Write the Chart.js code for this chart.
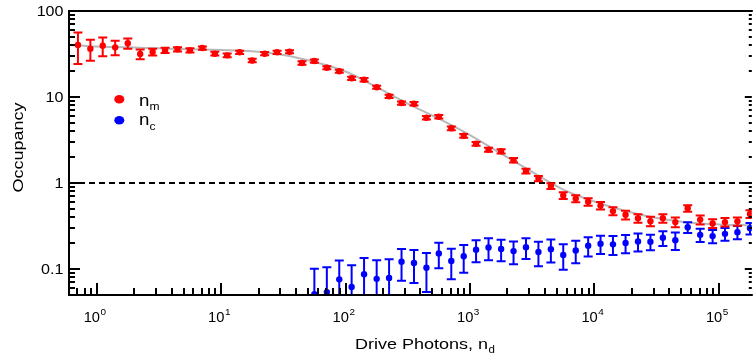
<!DOCTYPE html>
<html><head><meta charset="utf-8">
<script src="https://cdn.jsdelivr.net/npm/chart.js@4/dist/chart.umd.min.js"></script>
<style>html,body{margin:0;padding:0;background:#fff;overflow:hidden}canvas{display:block}</style>
</head><body>
<canvas id="c" width="755" height="361"></canvas>
<script>
// ---- data ----
const driveX = [0.708, 0.891, 1.12, 1.41, 1.78, 2.24, 2.82, 3.55, 4.47, 5.62, 7.08, 8.91, 11.2, 14.1, 17.8, 22.4, 28.2, 35.5, 44.7, 56.2, 70.8, 89.1, 112, 141, 178, 224, 282, 355, 447, 562, 708, 891, 1120, 1410, 1780, 2240, 2820, 3550, 4470, 5620, 7080, 8910, 11200, 14100, 17800, 22400, 28200, 35500, 44700, 56200, 70800, 89100, 112000, 141000, 178000];
const nmValues = [40.2, 36.4, 39.5, 37.8, 42.1, 31.6, 33.4, 34.9, 35.9, 34.9, 37.1, 31.9, 30.5, 33.1, 26.6, 31.9, 33.1, 33.6, 24.9, 26.2, 21.9, 19.9, 16.5, 15.9, 13.0, 10.2, 8.51, 8.36, 5.74, 5.90, 4.33, 3.55, 2.86, 2.44, 2.34, 1.84, 1.38, 1.13, 0.923, 0.716, 0.660, 0.606, 0.547, 0.472, 0.428, 0.390, 0.360, 0.390, 0.352, 0.509, 0.376, 0.340, 0.352, 0.359, 0.438];
const nmErrors = [16, 10, 9.7, 7.3, 5.8, 4.2, 3.0, 2.5, 2.0, 2.0, 1.6, 1.6, 1.5, 1.5, 1.3, 1.4, 1.4, 1.4, 1.1, 1.1, 0.9, 0.8, 0.7, 0.7, 0.55, 0.45, 0.38, 0.37, 0.27, 0.28, 0.21, 0.18, 0.15, 0.13, 0.13, 0.11, 0.09, 0.08, 0.07, 0.065, 0.06, 0.06, 0.055, 0.05, 0.05, 0.045, 0.045, 0.045, 0.045, 0.045, 0.045, 0.04, 0.04, 0.04, 0.045];
const ncX = [56.2, 70.8, 89.1, 112, 141, 178, 224, 282, 355, 447, 562, 708, 891, 1120, 1410, 1780, 2240, 2820, 3550, 4470, 5620, 7080, 8910, 11200, 14100, 17800, 22400, 28200, 35500, 44700, 56200, 70800, 89100, 112000, 141000, 178000];
const ncValues = [0.051, 0.054, 0.076, 0.062, 0.087, 0.077, 0.079, 0.122, 0.118, 0.104, 0.152, 0.124, 0.141, 0.168, 0.178, 0.171, 0.162, 0.180, 0.158, 0.170, 0.146, 0.165, 0.187, 0.197, 0.194, 0.201, 0.210, 0.208, 0.231, 0.217, 0.306, 0.250, 0.242, 0.257, 0.269, 0.298];
const ncErrors = [0.050, 0.051, 0.050, 0.049, 0.048, 0.050, 0.051, 0.049, 0.049, 0.050, 0.050, 0.048, 0.050, 0.048, 0.051, 0.048, 0.048, 0.049, 0.050, 0.051, 0.048, 0.048, 0.047, 0.047, 0.048, 0.048, 0.050, 0.042, 0.045, 0.050, 0.044, 0.044, 0.042, 0.043, 0.047, 0.045];
const fitX = [0.6, 1, 1.78, 3.16, 5.62, 10, 17.8, 31.6, 56.2, 100, 178, 316, 562, 1000, 1780, 3160, 5620, 10000, 17800, 31600, 56200, 100000, 184000];
const fitY = [40.3, 38.6, 37.8, 36.8, 35.9, 35.2, 34.0, 30.8, 25.6, 19.8, 13.0, 8.4, 5.6, 3.61, 2.2, 1.35, 0.84, 0.61, 0.473, 0.392, 0.349, 0.331, 0.323];
const refLineX = [0.6, 184000];
const refLineY = [1, 1];
const xMajorTicks = [1, 10, 100, 1000, 10000, 100000];
const xMajorExponents = ['0', '1', '2', '3', '4', '5'];
const yMajorTicks = [0.1, 1, 10, 100];
const yMajorLabels = ['0.1', '1', '10', '100'];
const seriesNames = ['m', 'c'];
const xTitle = 'Drive Photons, n';
const xTitleSub = 'd';
const yTitle = 'Occupancy';

const X_MIN = 0.6, X_MAX = 184000, Y_MIN = 0.05, Y_MAX = 100;
const RED = '#ff0000', BLUE = '#0000ff';
const FONT = '"Liberation Sans", Arial, Helvetica, sans-serif';

function pts(xs, ys) { return xs.map((x, i) => ({ x: x, y: ys[i] })); }

function txt(ctx, s, x, y, size, align, sx) {
  ctx.save();
  ctx.font = size + 'px ' + FONT;
  ctx.textAlign = 'left';
  ctx.textBaseline = 'alphabetic';
  const w = ctx.measureText(s).width * sx;
  const x0 = align === 'right' ? x - w : align === 'center' ? x - w / 2 : x;
  ctx.translate(x0, y);
  ctx.scale(sx, 1);
  ctx.fillText(s, 0, 0);
  ctx.restore();
  return w;
}
function tw(ctx, s, size, sx) { ctx.save(); ctx.font = size + 'px ' + FONT; const w = ctx.measureText(s).width * sx; ctx.restore(); return w; }

const errorBars = {
  id: 'errorBars',
  beforeDatasetDraw(chart, args) {
    const ds = chart.data.datasets[args.index];
    if (!ds.errors) return;
    const ctx = chart.ctx, a = chart.chartArea, xs = chart.scales.x, ys = chart.scales.y;
    ctx.save();
    ctx.beginPath(); ctx.rect(a.left, a.top, a.right - a.left, a.bottom - a.top); ctx.clip();
    ctx.strokeStyle = ds.pointBackgroundColor;
    ctx.lineWidth = 2;
    const cap = 4.5;
    ds.data.forEach((p, i) => {
      const e = ds.errors[i];
      const px = xs.getPixelForValue(p.x);
      const top = ys.getPixelForValue(p.y + e);
      const lo = p.y - e;
      const bot = lo > 0 ? ys.getPixelForValue(lo) : a.bottom + 20;
      ctx.beginPath();
      ctx.moveTo(px, top); ctx.lineTo(px, bot);
      ctx.moveTo(px - cap, top); ctx.lineTo(px + cap, top);
      if (lo > 0) { ctx.moveTo(px - cap, bot); ctx.lineTo(px + cap, bot); }
      ctx.stroke();
    });
    ctx.restore();
  }
};

const frame = {
  id: 'frame',
  afterDraw(chart) {
    const ctx = chart.ctx, a = chart.chartArea, xs = chart.scales.x, ys = chart.scales.y;
    ctx.save();
    ctx.strokeStyle = '#000'; ctx.fillStyle = '#000'; ctx.lineWidth = 2; ctx.lineCap = 'butt';
    // axis lines
    ctx.beginPath();
    ctx.moveTo(a.left, a.top - 1); ctx.lineTo(a.left, a.bottom + 1);
    ctx.moveTo(a.left - 1, a.bottom); ctx.lineTo(a.right + 1, a.bottom);
    ctx.moveTo(a.left - 1, a.top); ctx.lineTo(a.right + 1, a.top);
    ctx.stroke();
    // x ticks
    ctx.beginPath();
    xMajorTicks.forEach(v => { const p = Math.round(xs.getPixelForValue(v)); ctx.moveTo(p, a.bottom); ctx.lineTo(p, a.bottom - 12); });
    for (let d = -1; d <= 5; d++) for (let m = 2; m <= 9; m++) {
      const v = m * Math.pow(10, d);
      if (v <= X_MIN * 1.01 || v >= X_MAX) continue;
      const p = Math.round(xs.getPixelForValue(v));
      ctx.moveTo(p, a.bottom); ctx.lineTo(p, a.bottom - 7);
    }
    // y ticks left and right
    yMajorTicks.forEach(v => {
      const p = Math.round(ys.getPixelForValue(v));
      ctx.moveTo(a.left, p); ctx.lineTo(a.left + 11, p);
      ctx.moveTo(a.right, p); ctx.lineTo(a.right - 7, p);
    });
    for (let d = -2; d <= 1; d++) for (let m = 2; m <= 9; m++) {
      const v = m * Math.pow(10, d);
      if (v <= Y_MIN * 1.01 || v >= Y_MAX) continue;
      const p = Math.round(ys.getPixelForValue(v));
      ctx.moveTo(a.left, p); ctx.lineTo(a.left + 6, p);
      ctx.moveTo(a.right, p); ctx.lineTo(a.right - 3, p);
    }
    ctx.stroke();
    // y tick labels
    yMajorTicks.forEach((v, i) => {
      const p = ys.getPixelForValue(v);
      txt(ctx, yMajorLabels[i], 63.5, p + 5, 14, 'right', 1.15);
    });
    // x tick labels 10^n
    xMajorTicks.forEach((v, i) => {
      const p = xs.getPixelForValue(v);
      const wb = tw(ctx, '10', 14, 1.05), we = tw(ctx, xMajorExponents[i], 9.5, 1.05);
      const x0 = p - 2 - (wb + we) / 2;
      txt(ctx, '10', x0, 321.5, 14, 'left', 1.05);
      txt(ctx, xMajorExponents[i], x0 + wb + 0.5, 315, 9.5, 'left', 1.05);
    });
    // x title
    const w1 = txt(ctx, xTitle, 355, 348.5, 15, 'left', 1.2);
    txt(ctx, xTitleSub, 355 + w1 + 0.5, 353, 10.5, 'left', 1.1);
    // y title
    ctx.save();
    ctx.translate(22.8, 147.5);
    ctx.rotate(-Math.PI / 2);
    txt(ctx, yTitle, 0, 0, 15, 'center', 1.2);
    ctx.restore();
    // legend
    const legend = [{ c: RED, y: 99.3, base: 106, sub: 109.5 }, { c: BLUE, y: 120.3, base: 125, sub: 130 }];
    legend.forEach((l, i) => {
      ctx.fillStyle = l.c;
      ctx.beginPath(); ctx.ellipse(119.3, l.y, 5, 4.3, 0, 0, Math.PI * 2); ctx.fill();
      ctx.fillStyle = '#000';
      const wn = txt(ctx, 'n', 139, l.base, 17, 'left', 1.1);
      txt(ctx, seriesNames[i], 139 + wn, l.sub, 11, 'left', 1.1);
    });
    ctx.restore();
  }
};

new Chart(document.getElementById('c'), {
  type: 'scatter',
  data: {
    datasets: [
      { label: 'n_m', data: pts(driveX, nmValues), errors: nmErrors, showLine: false,
        pointRadius: 3.2, pointHoverRadius: 3.2, pointBackgroundColor: RED, pointBorderColor: RED, pointBorderWidth: 0, clip: 0 },
      { label: 'n_c', data: pts(ncX, ncValues), errors: ncErrors, showLine: false,
        pointRadius: 3.2, pointHoverRadius: 3.2, pointBackgroundColor: BLUE, pointBorderColor: BLUE, pointBorderWidth: 0, clip: 0 },
      { label: 'unity', data: pts(refLineX, refLineY), showLine: true, borderColor: '#000', borderWidth: 2,
        borderDash: [6, 4], pointRadius: 0, fill: false, clip: 0 },
      { label: 'fit', data: pts(fitX, fitY), showLine: true, borderColor: '#b8b8b8', borderWidth: 2,
        cubicInterpolationMode: 'monotone', pointRadius: 0, fill: false, clip: 0 }
    ]
  },
  options: {
    responsive: false,
    animation: false,
    devicePixelRatio: 1,
    events: [],
    layout: { padding: { left: 69, top: 11, right: 0, bottom: 66 } },
    scales: {
      x: { type: 'logarithmic', min: X_MIN, max: X_MAX, display: false },
      y: { type: 'logarithmic', min: Y_MIN, max: Y_MAX, display: false }
    },
    plugins: { legend: { display: false }, tooltip: { enabled: false }, title: { display: false } }
  },
  plugins: [errorBars, frame]
});
</script>
</body></html>
